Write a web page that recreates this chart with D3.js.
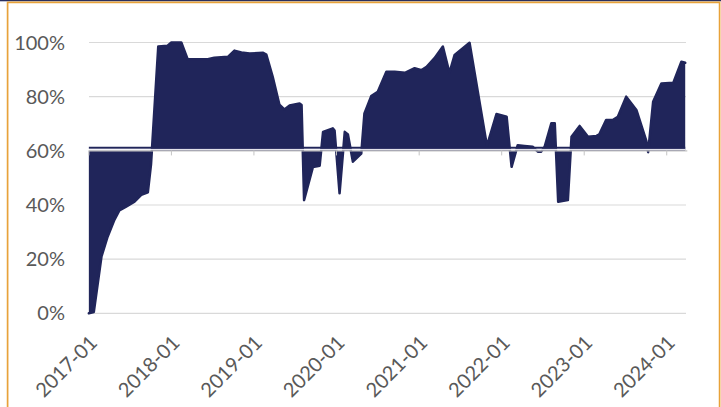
<!DOCTYPE html>
<html>
<head>
<meta charset="utf-8">
<script src="https://cdn.jsdelivr.net/npm/d3@7"></script>
<style>
  body { margin: 0; background: #fff; }
  svg { display: block; }
</style>
</head>
<body>
<div id="chart"></div>
<script>
// Data (share, %), axis crosses at 60%
const dates = [
  "2017-01-03", "2017-01-25", "2017-02-28", "2017-03-27", "2017-04-26", "2017-05-18",
  "2017-06-17", "2017-07-24", "2017-08-23", "2017-09-21", "2017-10-05", "2017-11-06",
  "2017-12-17", "2018-01-03", "2018-02-16", "2018-03-16", "2018-06-13", "2018-07-12",
  "2018-09-10", "2018-10-09", "2018-11-09", "2018-12-15", "2019-02-13", "2019-02-27",
  "2019-03-27", "2019-04-26", "2019-05-18", "2019-06-10", "2019-07-24", "2019-08-02",
  "2019-08-13", "2019-09-21", "2019-10-21", "2019-11-05", "2019-12-18", "2019-12-26",
  "2020-01-17", "2020-02-09", "2020-02-23", "2020-03-16", "2020-04-07", "2020-04-22",
  "2020-05-06", "2020-06-05", "2020-07-04", "2020-08-11", "2020-09-17", "2020-11-01",
  "2020-12-14", "2021-01-14", "2021-02-05", "2021-03-12", "2021-04-18", "2021-05-17",
  "2021-06-09", "2021-08-14", "2021-10-30", "2021-12-11", "2022-01-25", "2022-02-16",
  "2022-03-15", "2022-04-14", "2022-05-20", "2022-06-12", "2022-06-27", "2022-07-12",
  "2022-08-11", "2022-08-26", "2022-09-10", "2022-10-23", "2022-11-08", "2022-12-14",
  "2023-01-20", "2023-02-27", "2023-03-11", "2023-04-10", "2023-05-09", "2023-06-01",
  "2023-07-08", "2023-08-22", "2023-10-05", "2023-10-13", "2023-11-04", "2023-12-11",
  "2024-02-01", "2024-03-08", "2024-03-25"
];
const shares = [
  0, 0.5, 21, 28.3, 34.5, 38,
  39.4, 41.2, 43.7, 44.7, 55, 98.5,
  98.8, 100, 100, 93.8, 93.8, 94.4,
  94.7, 97, 96.3, 95.9, 96.2, 95.5,
  87.4, 77, 75.3, 76.7, 77.5, 76.9,
  41.8, 54, 54.5, 67, 68.3, 67.5,
  44.3, 67, 66, 56, 57.8, 59,
  73.8, 80.2, 81.8, 89.2, 89.2, 88.8,
  90.5, 89.8, 91, 94.2, 98.5, 88.8,
  95.4, 99.9, 61.8, 73.6, 72.6, 54.1,
  62.1, 61.8, 61.5, 59.7, 59.7, 61.5,
  70.2, 70.2, 41.2, 41.8, 65.2, 69.2,
  65.2, 65.5, 66.1, 71.4, 71.4, 72.6,
  80, 75.1, 63.7, 59.5, 78.1, 84.9,
  85.1, 92.9, 92.5
];
const yTicks = [0, 20, 40, 60, 80, 100];
const xTickLabels = ["2017-01", "2018-01", "2019-01", "2020-01", "2021-01", "2022-01", "2023-01", "2024-01"];
const baseline = 60;

const width = 721;
const height = 407;
const plot = { left: 88.4, right: 686.8, top: 42.5, bottom: 313.3 };
const navy = "#20255a";
const textColor = "#595959";

const parse = d3.timeParse("%Y-%m-%d");
const parseMonth = d3.timeParse("%Y-%m");
const data = dates.map((d, i) => ({ date: parse(d), value: shares[i] }));

const x = d3.scaleTime()
  .domain([parseMonth("2017-01"), parseMonth("2024-04")])
  .range([plot.left, plot.right]);

const y = d3.scaleLinear()
  .domain([0, 100])
  .range([plot.bottom, plot.top]);

const svg = d3.select("#chart").append("svg")
  .attr("width", width)
  .attr("height", height);

// frame: thin navy strip on top, orange border
svg.append("rect")
  .attr("x", 0).attr("y", 0)
  .attr("width", width).attr("height", 1.3)
  .attr("fill", "#2a2f5e");
svg.append("rect")
  .attr("x", 7.6).attr("y", 2.4)
  .attr("width", 712).attr("height", 440)
  .attr("fill", "none")
  .attr("stroke", "#e8a23a")
  .attr("stroke-width", 1.7);

// gridlines (60% is replaced by the axis line)
svg.append("g")
  .selectAll("line")
  .data(yTicks.filter(t => t !== baseline))
  .join("line")
  .attr("x1", plot.left + 0.6)
  .attr("x2", plot.right - 0.8)
  .attr("y1", d => y(d))
  .attr("y2", d => y(d))
  .attr("stroke", "#d9d9d9")
  .attr("stroke-width", 1.2);

// y labels
svg.append("g")
  .selectAll("text")
  .data(yTicks)
  .join("text")
  .attr("x", 65)
  .attr("y", d => y(d))
  .attr("dy", "0.35em")
  .attr("text-anchor", "end")
  .attr("font-family", "Lato, 'Open Sans', sans-serif")
  .attr("font-size", "20px")
  .attr("fill", textColor)
  .text(d => d + "%");

// area from the 60% line
const area = d3.area()
  .x(d => x(d.date))
  .y0(y(baseline))
  .y1(d => y(d.value));

const line = d3.line()
  .x(d => x(d.date))
  .y(d => y(d.value));

svg.append("path")
  .datum(data)
  .attr("fill", navy)
  .attr("d", area);

svg.append("path")
  .datum(data)
  .attr("fill", "none")
  .attr("stroke", navy)
  .attr("stroke-width", 2.5)
  .attr("stroke-linejoin", "round")
  .attr("stroke-linecap", "round")
  .attr("d", line);

// navy edge just above the axis
const first = data[0].date, last = data[data.length - 1].date;
svg.append("line")
  .attr("x1", x(first)).attr("x2", x(last))
  .attr("y1", y(baseline) - 3).attr("y2", y(baseline) - 3)
  .attr("stroke", navy)
  .attr("stroke-width", 2);
svg.append("line")
  .attr("x1", x(first)).attr("x2", x(last))
  .attr("y1", y(baseline) - 1.4).attr("y2", y(baseline) - 1.4)
  .attr("stroke", "#f4f4f8")
  .attr("stroke-width", 1);

// horizontal axis at 60%
const xAxis = d3.axisBottom(x)
  .tickValues(xTickLabels.map(parseMonth))
  .tickSize(5)
  .tickSizeOuter(0)
  .tickFormat("");

const axisG = svg.append("g")
  .attr("transform", `translate(0,${y(baseline) - 0.4})`)
  .call(xAxis);
axisG.select(".domain")
  .attr("stroke", "#c4c4c4")
  .attr("stroke-width", 1.4);
axisG.selectAll(".tick line")
  .attr("stroke", "#c4c4c4")
  .attr("stroke-width", 1);

// x labels, low position, rotated
svg.append("g")
  .selectAll("text")
  .data(xTickLabels)
  .join("text")
  .attr("transform", d => `translate(${x(parseMonth(d)) + 10},344) rotate(-45)`)
  .attr("text-anchor", "end")
  .attr("font-family", "Lato, 'Open Sans', sans-serif")
  .attr("font-size", "20px")
  .attr("fill", textColor)
  .text(d => d);
</script>
</body>
</html>
